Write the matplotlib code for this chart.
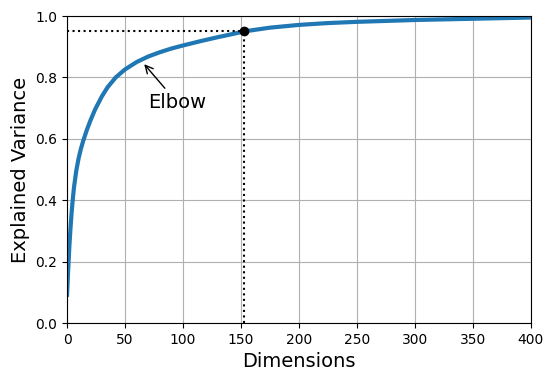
import matplotlib.pyplot as plt

# 累计解释方差
dims = [0, 1, 2, 3, 4, 5, 6, 8, 10, 12, 14, 17, 20, 24, 30, 35, 42, 50, 60,
        70, 80, 90, 100, 115, 130, 140, 153, 175, 200, 225, 250, 275, 300,
        325, 350, 375, 400]
cumsum = [0.092, 0.175, 0.250, 0.310, 0.362, 0.405, 0.442, 0.497, 0.537,
          0.568, 0.594, 0.628, 0.658, 0.694, 0.738, 0.768, 0.800, 0.826,
          0.850, 0.868, 0.882, 0.894, 0.904, 0.918, 0.931, 0.939, 0.950,
          0.962, 0.971, 0.977, 0.981, 0.984, 0.987, 0.989, 0.991, 0.993,
          0.995]
d = 153

plt.figure(figsize=(5.54, 3.81), dpi=100)
plt.subplots_adjust(left=0.121, right=0.958, top=0.958, bottom=0.152)
plt.plot(dims, cumsum, linewidth=3)
plt.axis([0, 400, 0, 1])
plt.xlabel("Dimensions", fontsize=14)
plt.ylabel("Explained Variance", fontsize=14)
plt.plot([d, d], [0, 0.95], "k:")
plt.plot([0, d], [0.95, 0.95], "k:")
plt.plot(d, 0.95, "ko")
plt.annotate("Elbow", xy=(65, 0.85), xytext=(70, 0.7),
             arrowprops=dict(arrowstyle="->"), fontsize=14)
plt.grid(True)
plt.savefig("out.png", dpi=100)
